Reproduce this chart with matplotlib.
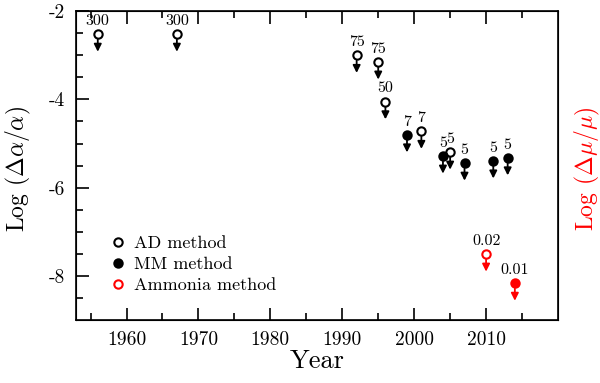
import numpy as np
import matplotlib.pyplot as plt

plt.rcParams['font.family'] = 'serif'
plt.rcParams['font.serif'] = ['cmr10', 'DejaVu Serif']
plt.rcParams['mathtext.fontset'] = 'cm'
plt.rcParams['axes.unicode_minus'] = False

# AD method (open black)
ad_year = [1956, 1967, 1992, 1995, 1996, 2001, 2005]
ad_val = [-2.52, -2.52, -3.0, -3.15, -4.05, -4.72, -5.19]
ad_lab = ['300', '300', '75', '75', '50', '7', '5']

# MM method (filled black)
mm_year = [1999, 2004, 2007, 2011, 2013]
mm_val = [-4.8, -5.28, -5.44, -5.39, -5.32]
mm_lab = ['7', '5', '5', '5', '5']

# Ammonia method (red)
am_year = [2010, 2014]
am_val = [-7.5, -8.16]
am_lab = ['0.02', '0.01']
am_filled = [False, True]

fig = plt.figure(figsize=(6, 3.83), dpi=100)
ax = fig.add_axes([0.127, 0.164, 0.803, 0.807])


def limits(xs, ys, labs, color, filled):
    for x, y, lab, f in zip(xs, ys, labs, filled):
        ax.annotate('', xy=(x, y - 0.4), xytext=(x, y),
                    arrowprops=dict(arrowstyle='-|>', color=color, lw=1.3,
                                    mutation_scale=11, shrinkA=4, shrinkB=0))
        ax.plot(x, y, 'o', ms=6, mec=color, mew=1.5,
                mfc=color if f else 'white', zorder=3)
        ax.text(x, y + 0.14, lab, ha='center', va='bottom',
                fontsize=11.5, color='black')


limits(ad_year, ad_val, ad_lab, 'black', [False] * len(ad_year))
limits(mm_year, mm_val, mm_lab, 'black', [True] * len(mm_year))
limits(am_year, am_val, am_lab, 'red', am_filled)

# legend
ax.plot([], [], 'o', ms=6, mec='black', mfc='white', mew=1.5, label='AD method')
ax.plot([], [], 'o', ms=6, mec='black', mfc='black', mew=1.5, label='MM method')
ax.plot([], [], 'o', ms=6, mec='red', mfc='white', mew=1.5, label='Ammonia method')
ax.legend(loc='lower left', bbox_to_anchor=(0.03, 0.035), frameon=False,
          handletextpad=0.3, handlelength=1.2, labelspacing=0.3, fontsize=13)

ax.set_xlim(1953, 2020)
ax.set_ylim(-9, -2)
ax.set_xticks([1960, 1970, 1980, 1990, 2000, 2010])
ax.set_xticks(np.arange(1955, 2020, 10), minor=True)
ax.set_yticks([-2, -4, -6, -8])
ax.set_yticklabels(['-2', '-4', '-6', '-8'])
ax.set_yticks(np.arange(-8.5, -2, 0.5), minor=True)
ax.tick_params(which='both', direction='in', top=True, right=True, width=1.2,
               labelsize=14, pad=8)
ax.tick_params(which='major', length=9)
ax.tick_params(which='minor', length=5)
for s in ax.spines.values():
    s.set_linewidth(1.2)

ax.set_xlabel('Year', fontsize=19, labelpad=0)
ax.set_ylabel(r'Log $(\Delta\alpha/\alpha)$', fontsize=17)
ax.yaxis.set_label_coords(-0.09, 0.49)
ax2 = ax.twinx()
ax2.set_ylim(-9, -2)
ax2.set_yticks([])
ax2.set_ylabel(r'Log $(\Delta\mu/\mu)$', fontsize=17, color='red')
ax2.yaxis.set_label_coords(1.03, 0.49)

fig.savefig('out.png', dpi=100)
